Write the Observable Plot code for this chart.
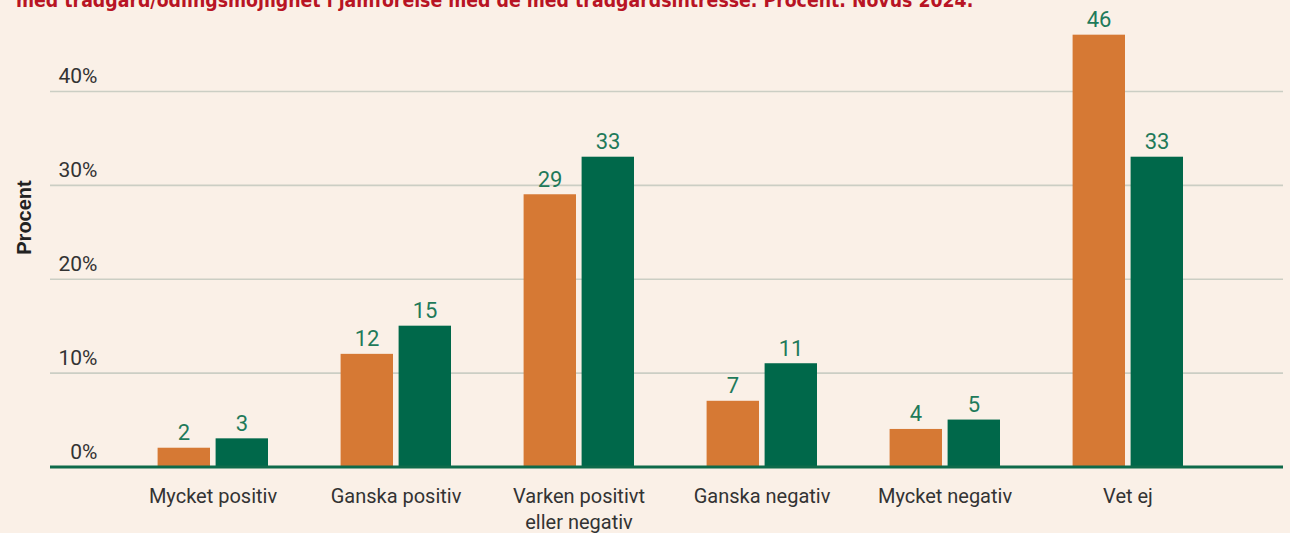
<!DOCTYPE html>
<html><head><meta charset="utf-8">
<script src="https://cdn.jsdelivr.net/npm/d3@7"></script>
<script src="https://cdn.jsdelivr.net/npm/@observablehq/plot@0.6"></script>
<style>
html,body{margin:0;padding:0;background:#FAF0E7;}
#wrap{position:relative;width:1290px;height:533px;overflow:hidden;background:#FAF0E7;}
#title{position:absolute;left:16px;top:-9px;font-weight:bold;font-size:19.3px;font-family:"DejaVu Sans Condensed",sans-serif;color:#B81424;white-space:nowrap;line-height:19.3px;}
#chart{position:absolute;left:0;top:0;}
</style></head><body>
<div id="wrap"><div id="title">med trädgård/odlingsmöjlighet i jämförelse med de med trädgårdsintresse. Procent. Novus 2024.</div><div id="chart"></div></div>
<script>
const categories = ["Mycket positiv", "Ganska positiv", "Varken positivt eller negativ", "Ganska negativ", "Mycket negativ", "Vet ej"];
const tickLabels = ["Mycket positiv", "Ganska positiv", "Varken positivt\neller negativ", "Ganska negativ", "Mycket negativ", "Vet ej"];
const seriesNames = ["Med trädgård/odlingsmöjlighet", "Med trädgårdsintresse"];
const seriesA = [2, 12, 29, 7, 4, 46];
const seriesB = [3, 15, 33, 11, 5, 33];
const yTicks = [0, 10, 20, 30, 40];

const dataA = categories.map((c, i) => ({cat: c, value: seriesA[i], series: seriesNames[0]}));
const dataB = categories.map((c, i) => ({cat: c, value: seriesB[i], series: seriesNames[1]}));
const labelOf = new Map(categories.map((c, i) => [c, tickLabels[i]]));

const orange = "#D67934", green = "#00684A", labelGreen = "#1F7A5A";

const chart = Plot.plot({
  width: 1290,
  height: 533,
  marginLeft: 50,
  marginRight: 7,
  marginTop: 0,
  marginBottom: 67,
  style: {background: "transparent", fontFamily: "Roboto,'Liberation Sans',sans-serif"},
  x: {domain: categories, range: [119.4, 1221], padding: 0},
  y: {domain: [0, 40], range: [466.5, 91]},
  marks: [
    Plot.ruleY(yTicks.filter(d => d > 0), {stroke: "#CBCEC4", strokeWidth: 1.6}),
    Plot.barY(dataA, {x: "cat", y: "value", fill: orange, insetLeft: 36.6, insetRight: 94}),
    Plot.barY(dataB, {x: "cat", y: "value", fill: green, insetLeft: 94.6, insetRight: 36}),
    Plot.ruleY([0], {stroke: "#0E6A4A", strokeWidth: 3}),
    Plot.text(dataA, {x: "cat", y: "value", text: d => String(d.value), dx: -29, dy: -8, lineAnchor: "bottom", fill: labelGreen, fontSize: 22}),
    Plot.text(dataB, {x: "cat", y: "value", text: d => String(d.value), dx: 29, dy: -8, lineAnchor: "bottom", fill: labelGreen, fontSize: 22}),
    Plot.axisY(yTicks, {anchor: "left", tickSize: 0, tickPadding: 0, tickFormat: d => d + "%", textAnchor: "end", dx: 47, dy: -15, fontSize: 21, fill: "#333", label: null}),
    Plot.axisX({anchor: "bottom", tickSize: 0, tickPadding: 18, tickFormat: d => labelOf.get(d), fontSize: 20, lineHeight: 1.3, fill: "#333", label: null}),
    Plot.text(["Procent"], {frameAnchor: "left", textAnchor: "middle", dx: -26, dy: -16, text: d => d, rotate: -90, fontWeight: "bold", fontSize: 20, fill: "#222", fontFamily: "'Liberation Sans',Arial,sans-serif"})
  ]
});
document.getElementById("chart").appendChild(chart);
</script>
</body></html>
